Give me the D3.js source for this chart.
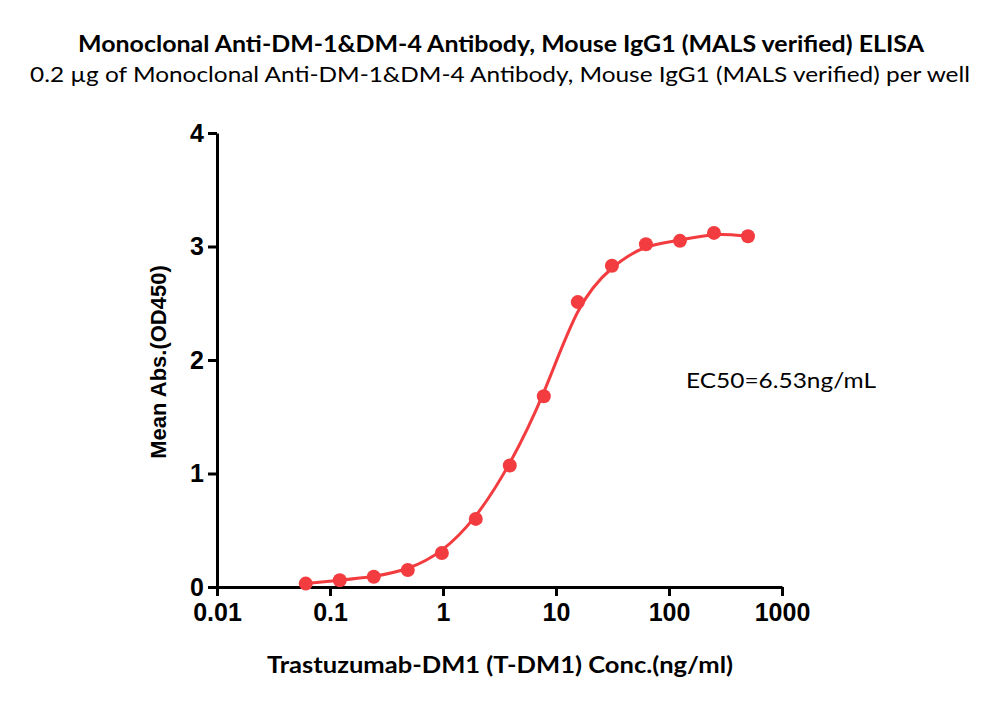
<!DOCTYPE html>
<html><head><meta charset="utf-8">
<script src="https://cdn.jsdelivr.net/npm/d3@7"></script>
<style>body{margin:0;background:#fff}</style>
</head><body>
<svg id="c" width="1000" height="710"></svg>
<script>
const concentrations = [0.061, 0.122, 0.244, 0.488, 0.977, 1.95, 3.9, 7.8, 15.6, 31.25, 62.5, 125, 250, 500];
const absorbance = [0.03, 0.06, 0.09, 0.15, 0.30, 0.60, 1.07, 1.68, 2.51, 2.83, 3.02, 3.05, 3.12, 3.09];
const xTicks = [0.01, 0.1, 1, 10, 100, 1000];
const xTickLabels = ["0.01", "0.1", "1", "10", "100", "1000"];
const yTicks = [0, 1, 2, 3, 4];
const title = "Monoclonal Anti-DM-1&DM-4 Antibody, Mouse IgG1 (MALS verified) ELISA";
const subtitle = "0.2 \u00b5g of Monoclonal Anti-DM-1&DM-4 Antibody, Mouse IgG1 (MALS verified) per well";
const xLabel = "Trastuzumab-DM1 (T-DM1) Conc.(ng/ml)";
const yLabel = "Mean Abs.(OD450)";
const annotation = "EC50=6.53ng/mL";

const svg = d3.select("#c");
const red = "#F23C3F";
const x = d3.scaleLog().domain([0.01, 1000]).range([217, 782]);
const y = d3.scaleLinear().domain([0, 4]).range([587, 133]);
const calibri = "Lato, 'Open Sans', sans-serif";

svg.append("text").attr("x", 501).attr("y", 52).attr("text-anchor", "middle")
  .attr("font-family", calibri).attr("font-weight", "bold").attr("font-size", 22)
  .attr("textLength", 846).attr("lengthAdjust", "spacingAndGlyphs").text(title);
svg.append("text").attr("x", 500).attr("y", 82).attr("text-anchor", "middle")
  .attr("font-family", calibri).attr("font-size", 22)
  .attr("textLength", 940).attr("lengthAdjust", "spacingAndGlyphs").text(subtitle);

// axes
const xAxis = d3.axisBottom(x).tickValues(xTicks).tickFormat((d, i) => xTickLabels[i]).tickSize(9).tickSizeOuter(0);
const gx = svg.append("g").attr("transform", "translate(0,587)").call(xAxis);
const yAxis = d3.axisLeft(y).tickValues(yTicks).tickFormat(d3.format("d")).tickSize(9).tickSizeOuter(0);
const gy = svg.append("g").attr("transform", "translate(217,0)").call(yAxis);
[gx, gy].forEach(g => {
  g.select(".domain").attr("stroke", "#000").attr("stroke-width", 3);
  g.selectAll(".tick line").attr("stroke", "#000").attr("stroke-width", 3);
  g.selectAll(".tick text").attr("fill", "#000").attr("font-family", "'Liberation Sans', Arial, sans-serif")
    .attr("font-weight", "bold").attr("font-size", 25);
});
gx.selectAll(".tick text").attr("dy", "0.71em").attr("y", 16);
gy.selectAll(".tick text").attr("x", -13);

svg.append("text").attr("x", 500).attr("y", 673).attr("text-anchor", "middle")
  .attr("font-family", calibri).attr("font-weight", "bold").attr("font-size", 22)
  .attr("textLength", 466).attr("lengthAdjust", "spacingAndGlyphs").text(xLabel);
svg.append("text").attr("transform", "translate(166,362) rotate(-90)").attr("text-anchor", "middle")
  .attr("font-family", "'Liberation Sans', Arial, sans-serif").attr("font-weight", "bold").attr("font-size", 22)
  .text(yLabel);
svg.append("text").attr("x", 686).attr("y", 388)
  .attr("font-family", calibri).attr("font-size", 22)
  .attr("textLength", 190).attr("lengthAdjust", "spacingAndGlyphs").text(annotation);

const pts = concentrations.map((c, i) => [c, absorbance[i]]);
const line = d3.line().x(d => x(d[0])).y(d => y(d[1])).curve(d3.curveBasis);
svg.append("path").datum(pts).attr("d", line).attr("fill", "none").attr("stroke", red).attr("stroke-width", 3);
svg.selectAll("circle.pt").data(pts).enter().append("circle").attr("class", "pt")
  .attr("cx", d => x(d[0])).attr("cy", d => y(d[1])).attr("r", 7).attr("fill", red);
</script>
</body></html>
